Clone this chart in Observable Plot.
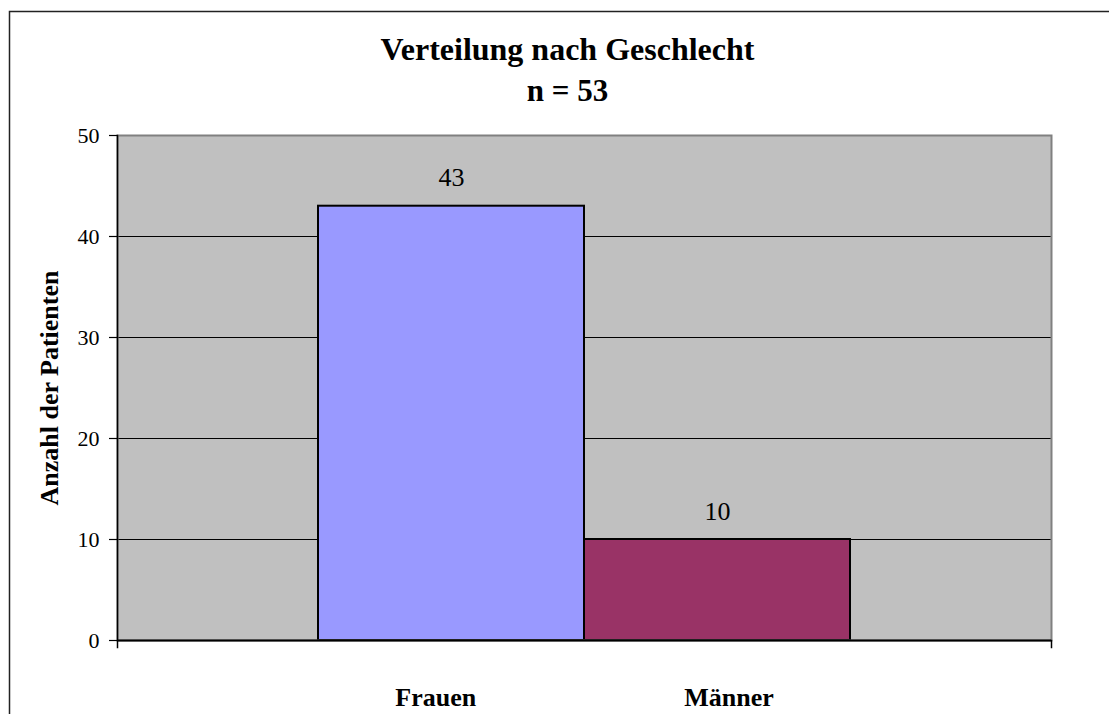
<!DOCTYPE html>
<html>
<head>
<meta charset="utf-8">
<script src="https://cdn.jsdelivr.net/npm/d3@7"></script>
<script src="https://cdn.jsdelivr.net/npm/@observablehq/plot@0.6"></script>
<style>
  html, body { margin: 0; padding: 0; background: white; }
  svg text { font-family: "Liberation Serif", "Times New Roman", Times, serif !important; }
</style>
</head>
<body>
<div id="chart"></div>
<script>
const categories = ["Frauen", "Männer"];
const values = [43, 10];
const colors = ["#9999FF", "#993366"];
const yTicks = [0, 10, 20, 30, 40, 50];
const gridTicks = [10, 20, 30, 40];
const title = "Verteilung nach Geschlecht";
const subtitle = "n = 53";
const yLabel = "Anzahl der Patienten";
const xLabel = "Frauen" + "\u00A0".repeat(32) + "Männer";

const data = categories.map((c, i) => ({category: c, value: values[i]}));
const font = "Liberation Serif, Times New Roman, Times, serif";

const chart = Plot.plot({
  width: 1109,
  height: 714,
  marginLeft: 117,
  marginRight: 58,
  marginTop: 135,
  marginBottom: 74,
  style: {fontFamily: font, color: "black", background: "white"},
  x: {domain: categories, paddingInner: 0, paddingOuter: 0.75, axis: null},
  y: {domain: [0, 50], axis: null},
  color: {domain: categories, range: colors},
  marks: [
    // outer chart border
    Plot.frame({insetLeft: -108, insetTop: -124, insetRight: -70, insetBottom: -80, stroke: "#222", strokeWidth: 1.5}),
    // plot area background
    Plot.frame({fill: "#C0C0C0", stroke: "none"}),
    Plot.gridY({ticks: gridTicks, stroke: "black", strokeOpacity: 1, strokeWidth: 1}),
    Plot.barY(data, {x: "category", y: "value", fill: "category", stroke: "black", strokeWidth: 2}),
    Plot.frame({stroke: "#808080", strokeWidth: 2}),
    Plot.frame({anchor: "left", insetBottom: -7, stroke: "black", strokeWidth: 1.5}),
    Plot.frame({anchor: "right", insetTop: 505, insetBottom: -7, stroke: "black", strokeWidth: 1.5}),
    Plot.ruleY([0], {stroke: "black", strokeWidth: 2}),
    Plot.axisY({ticks: yTicks, tickSize: 8, tickPadding: 10, fontSize: 22, fontFamily: font, label: null, stroke: "black", strokeWidth: 1.2}),
    Plot.text(data, {x: "category", y: "value", text: d => String(d.value), dy: -20, lineAnchor: "bottom", fontSize: 26, fontFamily: font, fill: "black"}),
    Plot.text([title], {frameAnchor: "top", dx: -17, dy: -76, lineAnchor: "bottom", fontSize: 32, fontWeight: "bold", fontFamily: font, fill: "black"}),
    Plot.text([subtitle], {frameAnchor: "top", dx: -17, dy: -35, lineAnchor: "bottom", fontSize: 31, fontWeight: "bold", fontFamily: font, fill: "black"}),
    Plot.text([yLabel], {frameAnchor: "left", textAnchor: "middle", dx: -60, rotate: -90, lineAnchor: "bottom", fontSize: 26, fontWeight: "bold", fontFamily: font, fill: "black"}),
    Plot.text([xLabel], {frameAnchor: "bottom", textAnchor: "middle", dy: 65, lineAnchor: "bottom", fontSize: 26, fontWeight: "bold", fontFamily: font, fill: "black"})
  ]
});
document.getElementById("chart").appendChild(chart);
</script>
</body>
</html>
